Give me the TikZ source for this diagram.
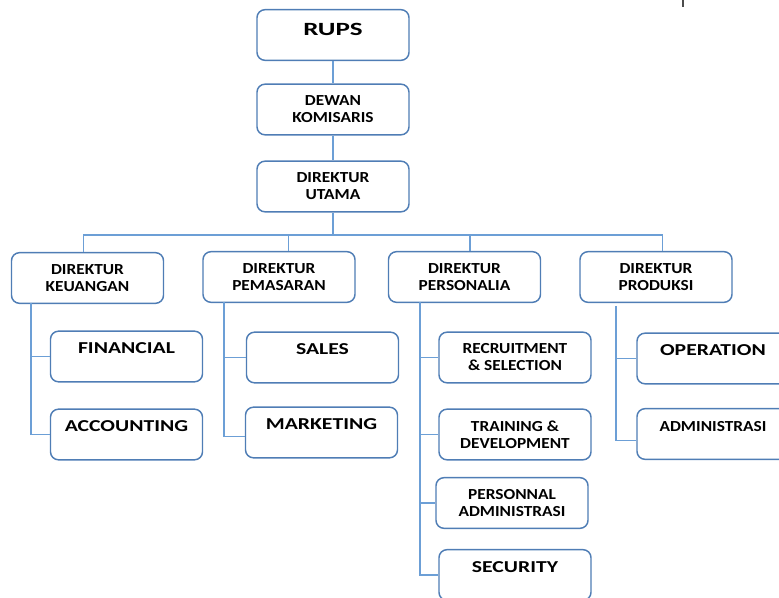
\documentclass[tikz,border=0pt]{standalone}
\usepackage{fontspec}
\setmainfont{Carlito}[FakeStretch=1.13]
\newfontfamily\widefont{Carlito}[FakeStretch=1.3]
\newfontfamily\rupsfont{Carlito}[FakeStretch=1.45]
\usepackage{xcolor}
\definecolor{bborder}{HTML}{4F7DB5}
\definecolor{lline}{HTML}{6C9FD6}
\usepackage{tikz}
\usetikzlibrary{calc}
\usetikzlibrary{positioning}

\begin{document}
\begin{tikzpicture}[x=0.75pt,y=-0.75pt,
  box/.style={draw=bborder,line width=1.1pt,rounded corners=6pt,fill=white,minimum width=114pt,minimum height=38pt,align=center,font=\bfseries\fontsize{11.5}{12.75}\selectfont,inner sep=1pt},
  onebox/.style={box,text height=7.5pt,text depth=10.5pt},
  bigbox/.style={box,font=\widefont\bfseries\fontsize{12.5}{14}\selectfont,text height=8pt,text depth=12.4pt},
  topbox/.style={box,font=\rupsfont\bfseries\fontsize{14}{16}\selectfont,text height=9pt,text depth=7.5pt},
  conn/.style={lline,line width=1pt}]
\useasboundingbox (0,0) rectangle (779,598);
\clip (0,0) rectangle (779,598);
\node[topbox] (rups) at (333,35) {RUPS};
\node[box] (dewan) at (333,109.5) {DEWAN\\KOMISARIS};
\node[box] (utama) at (333,186.5) {DIREKTUR\\UTAMA};
\node[box] (keu) at (87.5,278) {DIREKTUR\\KEUANGAN};
\node[box] (pem) at (279,277) {DIREKTUR\\PEMASARAN};
\node[box] (per) at (464.5,277) {DIREKTUR\\PERSONALIA};
\node[box] (pro) at (656,277) {DIREKTUR\\PRODUKSI};
\node[bigbox] (fin) at (126.5,356.5) {FINANCIAL};
\node[bigbox] (acc) at (126.5,434.5) {ACCOUNTING};
\node[bigbox] (sal) at (322.5,357.5) {SALES};
\node[bigbox] (mkt) at (321.5,432.5) {MARKETING};
\node[box] (rec) at (515,357.5) {RECRUITMENT\\\& SELECTION};
\node[box] (trn) at (515,434.5) {TRAINING \&\\DEVELOPMENT};
\node[box] (pad) at (512,503) {PERSONNAL\\ADMINISTRASI};
\node[bigbox] (sec) at (515,575) {SECURITY};
\node[bigbox] (opr) at (713,358.5) {OPERATION};
\node[onebox] (adm) at (713,434) {ADMINISTRASI};
\coordinate (bus) at (333,235);
\coordinate (tk) at (31,303);
\coordinate (tp) at (224,302);
\coordinate (tr) at (420,302);
\coordinate (td) at (616,306);
\draw[conn] (rups) -- (dewan);
\draw[conn] (dewan) -- (utama);
\draw[conn] (utama) -- (bus);
\draw[conn] ([xshift=-3pt]keu.north) |- (bus) -| ([xshift=5pt]pro.north);
\draw[conn] ([xshift=7pt]pem.north) -- ([xshift=7pt]pem.north |- bus);
\draw[conn] ([xshift=4pt]per.north) -- ([xshift=4pt]per.north |- bus);
\draw[conn] (tk) |- (acc.west);
\draw[conn] (tk |- fin.west) -- (fin.west);
\draw[conn] (tp) |- ([yshift=-3pt]mkt.west);
\draw[conn] (tp |- sal.west) -- (sal.west);
\draw[conn] (tr) |- (sec.west);
\draw[conn] (tr |- rec.west) -- (rec.west);
\draw[conn] (tr |- trn.west) -- (trn.west);
\draw[conn] (tr |- pad.west) -- (pad.west);
\draw[conn] (td) |- ([yshift=-5pt]adm.west);
\draw[conn] (td |- opr.west) -- (opr.west);
\draw[black!70,line width=1pt] (683,0) -- (683,7);
\end{tikzpicture}
\end{document}
